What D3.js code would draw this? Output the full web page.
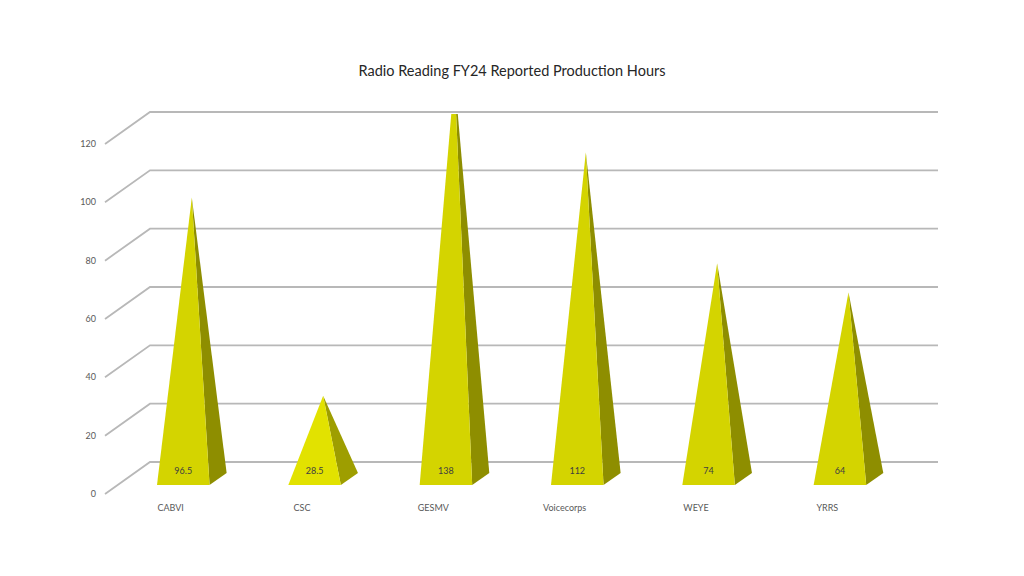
<!DOCTYPE html>
<html>
<head>
<meta charset="utf-8">
<script src="https://cdn.jsdelivr.net/npm/d3@7"></script>
<style>
  body { margin: 0; background: #fff; }
  text { font-family: Lato, "Open Sans", sans-serif; }
</style>
</head>
<body>
<div id="chart"></div>
<script>
const categories = ["CABVI", "CSC", "GESMV", "Voicecorps", "WEYE", "YRRS"]
const hours = [96.5, 28.5, 138, 112, 74, 64]
const labels = ["96.5", "28.5", "138", "112", "74", "64"]
const yTicks = [0, 20, 40, 60, 80, 100, 120]

const svg = d3.select("#chart").append("svg")
  .attr("width", 1024)
  .attr("height", 576)

// front plane + oblique depth offset
const x0 = 105, y0 = 494, plotW = 788
const dx = 45, dy = -32

const x = d3.scaleBand()
  .domain(categories)
  .range([x0, x0 + plotW])

const y = d3.scaleLinear()
  .domain([0, 120])
  .range([y0, y0 - 350])

svg.append("text")
  .attr("x", 512)
  .attr("y", 76)
  .attr("text-anchor", "middle")
  .style("font-size", "14.5px")
  .style("fill", "#262626")
  .text("Radio Reading FY24 Reported Production Hours")

// gridlines: left wall diagonal + back wall horizontal
const grid = svg.append("g")
  .attr("stroke", "#b8b8b8")
  .attr("stroke-width", 1.8)
  .attr("fill", "none")

grid.selectAll("path")
  .data(yTicks)
  .enter().append("path")
    .attr("d", d => `M${x0},${y(d)} L${x0 + dx},${y(d) + dy} L${x0 + dx + plotW},${y(d) + dy}`)

svg.append("g").selectAll("text")
  .data(yTicks)
  .enter().append("text")
    .attr("x", 96)
    .attr("y", d => y(d) + 3)
    .attr("text-anchor", "end")
    .style("font-size", "9px")
    .style("fill", "#595959")
    .text(d => d)

// clip anything above the top of the back wall
svg.append("clipPath").attr("id", "plotclip")
  .append("rect")
    .attr("x", 0)
    .attr("y", y(120) + dy + 2)
    .attr("width", 1024)
    .attr("height", 576)

const bw = x.bandwidth()
const hw = bw * 0.2
const f1 = 0.28, f2 = 0.66, fm = (f1 + f2) / 2

const bars = svg.append("g")
  .attr("clip-path", "url(#plotclip)")
  .selectAll("g")
  .data(categories)
  .enter().append("g")

const pts = (c, i) => {
  const cx = x(c) + bw / 2
  return {
    fl: [cx - hw + f1 * dx, y0 + f1 * dy],
    fr: [cx + hw + f1 * dx, y0 + f1 * dy],
    br: [cx + hw + f2 * dx, y0 + f2 * dy],
    ap: [cx + fm * dx, y(hours[i]) + fm * dy]
  }
}

const shade = (c, i) => {
  const p = pts(c, i)
  const h = p.fl[1] - p.ap[1]
  return Math.max(0, Math.min(1, (h - 90) / 100))
}

bars.append("path")
  .attr("d", (c, i) => { const p = pts(c, i); return "M" + [p.fr, p.br, p.ap].join("L") + "Z" })
  .attr("fill", (c, i) => d3.interpolateRgb("#9e9e00", "#8e8e00")(shade(c, i)))

bars.append("path")
  .attr("d", (c, i) => { const p = pts(c, i); return "M" + [p.fl, p.fr, p.ap].join("L") + "Z" })
  .attr("fill", (c, i) => d3.interpolateRgb("#e2e200", "#d4d400")(shade(c, i)))

svg.append("g").selectAll("text")
  .data(categories)
  .enter().append("text")
    .attr("x", c => x(c) + bw / 2 + f1 * dx)
    .attr("y", y0 + f1 * dy - 11)
    .attr("text-anchor", "middle")
    .style("font-size", "9px")
    .style("fill", "#404040")
    .text((c, i) => labels[i])

svg.append("g").selectAll("text")
  .data(categories)
  .enter().append("text")
    .attr("x", c => x(c) + bw / 2)
    .attr("y", 511)
    .attr("text-anchor", "middle")
    .style("font-size", "9px")
    .style("fill", "#595959")
    .text(c => c)
</script>
</body>
</html>
